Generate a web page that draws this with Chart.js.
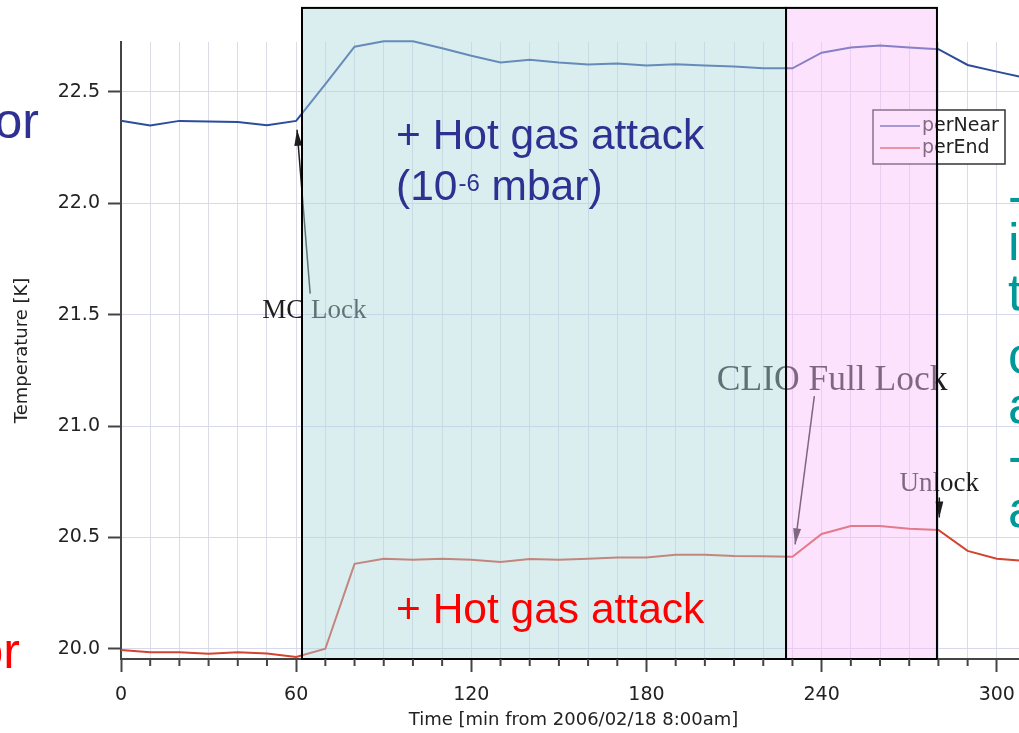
<!DOCTYPE html>
<html>
<head>
<meta charset="utf-8">
<title>perNear / perEnd</title>
<script src="https://cdn.jsdelivr.net/npm/chart.js@4.4.1/dist/chart.umd.min.js"></script>
<style>
    html, body { margin: 0; padding: 0; background: #fff; overflow: hidden; }
    #wrap { width: 1040px; height: 733px; }
</style>
</head>
<body>
<div id="wrap"><canvas id="graficoTemp" width="1040" height="733"></canvas></div>
<script>
// Time since 8:00am, one sample every 10 min
const minutos = [0, 10, 20, 30, 40, 50, 60, 70, 80, 90, 100, 110, 120, 130, 140, 150,
                 160, 170, 180, 190, 200, 210, 220, 230, 240, 250, 260, 270, 280, 290, 300, 310];

// Temperatures [K]
const perNear = [22.371, 22.349, 22.370, 22.367, 22.365, 22.350, 22.370, 22.535, 22.703, 22.727, 22.727,
                 22.696, 22.662, 22.632, 22.644, 22.632, 22.623, 22.627, 22.618, 22.624, 22.618, 22.614,
                 22.606, 22.606, 22.676, 22.699, 22.708, 22.699, 22.692, 22.621, 22.591, 22.562];
const perEnd = [19.995, 19.985, 19.985, 19.979, 19.985, 19.980, 19.964, 20.001, 20.382, 20.405, 20.400,
                20.405, 20.400, 20.390, 20.404, 20.400, 20.405, 20.410, 20.410, 20.423, 20.423, 20.417,
                20.416, 20.414, 20.516, 20.552, 20.552, 20.540, 20.534, 20.440, 20.405, 20.395];

const yTicks = [20.0, 20.5, 21.0, 21.5, 22.0, 22.5];

// Periods (min): hot gas on, CLIO full lock, unlock
const hotGasInicio = 62.0;
const fullLockInicio = 227.8;
const unlockFim = 279.5;

const corNear = '#2c4c9c';
const corEnd = '#d4432f';

function seta(c, x1, y1, x2, y2) {
    c.beginPath();
    c.moveTo(x1, y1);
    c.lineTo(x2, y2);
    c.stroke();
    const ang = Math.atan2(y2 - y1, x2 - x1);
    const len = 16, w = 4;
    c.beginPath();
    c.moveTo(x2, y2);
    c.lineTo(x2 - len * Math.cos(ang) + w * Math.sin(ang), y2 - len * Math.sin(ang) - w * Math.cos(ang));
    c.lineTo(x2 - len * Math.cos(ang) - w * Math.sin(ang), y2 - len * Math.sin(ang) + w * Math.cos(ang));
    c.closePath();
    c.fill();
}

// Legend, lock labels, shaded periods and slide notes
const anotacoes = {
    id: 'anotacoes',
    afterDatasetsDraw(chart) {
        const c = chart.ctx;
        const xs = chart.scales.x, ys = chart.scales.y;
        const px = v => xs.getPixelForValue(v);
        const py = v => ys.getPixelForValue(v);
        const area = chart.chartArea;
        c.save();

        // legend box
        c.fillStyle = '#fff';
        c.fillRect(873, 110, 132, 54);
        c.strokeStyle = '#333';
        c.lineWidth = 1.5;
        c.strokeRect(873, 110, 132, 54);
        c.font = '19px "DejaVu Sans"';
        c.textBaseline = 'middle';
        c.textAlign = 'left';
        chart.data.datasets.forEach((ds, i) => {
            const y = 126 + i * 22;
            c.strokeStyle = ds.borderColor;
            c.lineWidth = 1.5;
            c.beginPath();
            c.moveTo(880, y);
            c.lineTo(920, y);
            c.stroke();
            c.fillStyle = '#222';
            c.fillText(ds.label, 922, y);
        });

        // lock labels with arrows
        c.fillStyle = '#1e1e1e';
        c.strokeStyle = '#1e1e1e';
        c.lineWidth = 1.5;
        c.textAlign = 'center';
        c.textBaseline = 'alphabetic';
        c.font = '27px "Liberation Serif"';
        c.fillText('MC Lock', px(66.2), py(21.486));
        seta(c, px(64.8), py(21.595), px(60.3), py(22.33));
        c.font = '35.5px "Liberation Serif"';
        c.fillText('CLIO Full Lock', px(243.6), py(21.16));
        seta(c, px(237.5), py(21.135), px(230.9), py(20.469));
        c.font = '27px "Liberation Serif"';
        c.fillText('Unlock', px(280.3), py(20.711));
        seta(c, px(280.3), py(20.68), px(280.3), py(20.59));

        // shaded periods
        const topo = py(22.877);
        const base = area.bottom;
        c.fillStyle = 'rgba(173, 217, 222, 0.45)';
        c.fillRect(px(hotGasInicio), topo, px(fullLockInicio) - px(hotGasInicio), base - topo);
        c.fillStyle = 'rgba(248, 191, 248, 0.45)';
        c.fillRect(px(fullLockInicio), topo, px(unlockFim) - px(fullLockInicio), base - topo);
        c.strokeStyle = '#000';
        c.lineWidth = 2;
        c.strokeRect(px(hotGasInicio), topo, px(fullLockInicio) - px(hotGasInicio), base - topo);
        c.strokeRect(px(fullLockInicio), topo, px(unlockFim) - px(fullLockInicio), base - topo);

        // slide notes
        c.textAlign = 'left';
        c.fillStyle = '#2e3192';
        c.font = '42.5px "Liberation Sans"';
        c.fillText('+ Hot gas attack', 396, 149);
        let x = 396;
        c.fillText('(10', x, 200);
        x += c.measureText('(10').width;
        c.font = '24px "Liberation Sans"';
        c.fillText('-6', x + 1, 191);
        x += c.measureText('-6').width + 1;
        c.font = '42.5px "Liberation Sans"';
        c.fillText(' mbar)', x, 200);
        c.fillStyle = '#ff0000';
        c.fillText('+ Hot gas attack', 396, 623);
        c.restore();
    },
    afterDraw(chart) {
        const c = chart.ctx;
        const xs = chart.scales.x;
        c.save();
        // short minor ticks on the time axis
        c.strokeStyle = '#444';
        c.lineWidth = 2;
        xs.ticks.forEach(t => {
            if (t.value % 60 !== 0) {
                const x = xs.getPixelForValue(t.value);
                c.beginPath();
                c.moveTo(x, chart.chartArea.bottom);
                c.lineTo(x, chart.chartArea.bottom + 7);
                c.stroke();
            }
        });
        // text running off the slide edges
        c.font = '50px "Liberation Sans"';
        c.textBaseline = 'alphabetic';
        c.textAlign = 'right';
        c.fillStyle = '#2e3192';
        c.fillText('or', 39, 138);
        c.fillStyle = '#ff0000';
        c.fillText('or', 20, 668);
        c.textAlign = 'left';
        c.fillStyle = '#00999a';
        c.font = '52px "Liberation Sans"';
        [['-', 214], ['i', 260], ['t', 310], ['c', 373], ['a', 423], ['-', 474], ['a', 527]].forEach(([s, y]) => {
            c.fillText(s, 1008, y);
        });
        c.restore();
    }
};

const fonteEixo = { family: 'DejaVu Sans', size: 19 };

const ctx = document.getElementById('graficoTemp').getContext('2d');
const grafico = new Chart(ctx, {
    type: 'line',
    data: {
        datasets: [{
            label: 'perNear',
            data: minutos.map((m, i) => ({ x: m, y: perNear[i] })),
            borderColor: corNear,
            borderWidth: 2,
            pointRadius: 0,
            tension: 0,
            clip: false
        }, {
            label: 'perEnd',
            data: minutos.map((m, i) => ({ x: m, y: perEnd[i] })),
            borderColor: corEnd,
            borderWidth: 2,
            pointRadius: 0,
            tension: 0,
            clip: false
        }]
    },
    options: {
        responsive: false,
        animation: false,
        devicePixelRatio: 1,
        layout: { padding: { top: 42, right: 14, left: 0, bottom: 0 } },
        plugins: { legend: { display: false }, tooltip: { enabled: false } },
        scales: {
            x: {
                type: 'linear',
                min: 0,
                max: 310,
                afterFit: s => { s.height = 74; },
                ticks: {
                    stepSize: 10,
                    autoSkip: false,
                    maxRotation: 0,
                    includeBounds: false,
                    padding: 12,
                    color: '#222',
                    font: fonteEixo,
                    callback: v => (v % 60 === 0 ? v : '')
                },
                grid: {
                    color: '#dcdce8',
                    lineWidth: 1,
                    tickLength: 13,
                    tickWidth: 2,
                    tickColor: c => (c.tick && c.tick.value % 60 === 0 ? '#444' : 'rgba(0,0,0,0)')
                },
                border: { color: '#444', width: 2 },
                title: {
                    display: true,
                    text: 'Time [min from 2006/02/18 8:00am]',
                    color: '#222',
                    font: { family: 'DejaVu Sans', size: 18 },
                    padding: { top: 0, bottom: 2 }
                }
            },
            y: {
                min: 19.955,
                max: 22.724,
                afterFit: s => { s.width = 121; },
                afterBuildTicks: s => { s.ticks = yTicks.map(v => ({ value: v })); },
                ticks: {
                    padding: 8,
                    color: '#222',
                    font: fonteEixo,
                    callback: v => v.toFixed(1)
                },
                grid: { color: '#d8d8ec', lineWidth: 1, tickLength: 13, tickWidth: 2, tickColor: '#444' },
                border: { color: '#444', width: 2 },
                title: {
                    display: true,
                    text: 'Temperature [K]',
                    color: '#222',
                    font: { family: 'DejaVu Sans', size: 18 },
                    padding: { top: 12, bottom: 0 }
                }
            }
        }
    },
    plugins: [anotacoes]
});
</script>
</body>
</html>
